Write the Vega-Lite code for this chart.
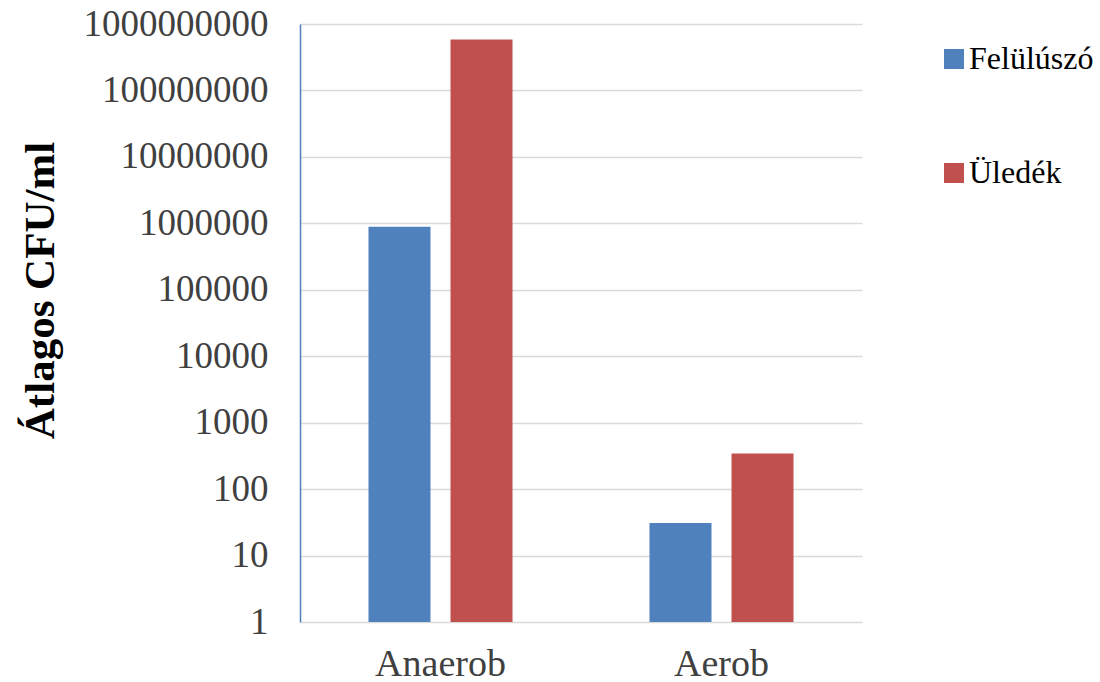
{
  "$schema": "https://vega.github.io/schema/vega-lite/v6.json",
  "autosize": {"type": "none"},
  "padding": {"left": 300, "top": 24, "right": 238, "bottom": 60},
  "width": 562,
  "height": 598,
  "background": "white",
  "data": {
    "values": [
      {"tipus": "Anaerob", "minta": "Felülúszó", "cfu": 890000},
      {"tipus": "Anaerob", "minta": "Üledék", "cfu": 585000000},
      {"tipus": "Aerob", "minta": "Felülúszó", "cfu": 31},
      {"tipus": "Aerob", "minta": "Üledék", "cfu": 343}
    ]
  },
  "mark": {"type": "bar"},
  "encoding": {
    "x": {
      "field": "tipus",
      "type": "nominal",
      "sort": ["Anaerob", "Aerob"],
      "scale": {"paddingInner": 0, "paddingOuter": 0},
      "axis": {
        "title": null,
        "labelAngle": 0,
        "labelFont": "Liberation Serif",
        "labelFontSize": 38,
        "labelColor": "#404040",
        "labelPadding": 23,
        "ticks": false,
        "domain": false,
        "grid": false
      }
    },
    "xOffset": {
      "field": "minta",
      "type": "nominal",
      "sort": ["Felülúszó", "Üledék"],
      "scale": {"paddingInner": 0.244, "paddingOuter": 0.835}
    },
    "y": {
      "field": "cfu",
      "type": "quantitative",
      "stack": null,
      "scale": {"type": "log", "domain": [1, 1000000000], "nice": false},
      "axis": {
        "title": "Átlagos CFU/ml",
        "titleFont": "Liberation Serif",
        "titleFontSize": 43,
        "titleFontWeight": "bold",
        "titleColor": "#000000",
        "titlePadding": 38,
        "titleY": 266,
        "values": [1, 10, 100, 1000, 10000, 100000, 1000000, 10000000, 100000000, 1000000000],
        "format": "d",
        "labelFont": "Liberation Serif",
        "labelFontSize": 37,
        "labelLimit": 400,
        "labelColor": "#404040",
        "labelPadding": 32,
        "ticks": false,
        "domainColor": "#4F81BD",
        "domainWidth": 1.5,
        "grid": true,
        "gridColor": "#D9D9D9",
        "gridWidth": 1.5
      }
    },
    "color": {
      "field": "minta",
      "type": "nominal",
      "sort": ["Felülúszó", "Üledék"],
      "scale": {"range": ["#4F81BD", "#C0504D"]},
      "legend": {
        "title": null,
        "orient": "none",
        "legendX": 638,
        "legendY": 19,
        "symbolType": "square",
        "symbolSize": 400,
        "symbolStrokeWidth": 0,
        "labelFont": "Liberation Serif",
        "labelFontSize": 32,
        "labelColor": "#000000",
        "labelOffset": -1,
        "rowPadding": 82
      }
    }
  },
  "config": {"view": {"stroke": null}}
}
